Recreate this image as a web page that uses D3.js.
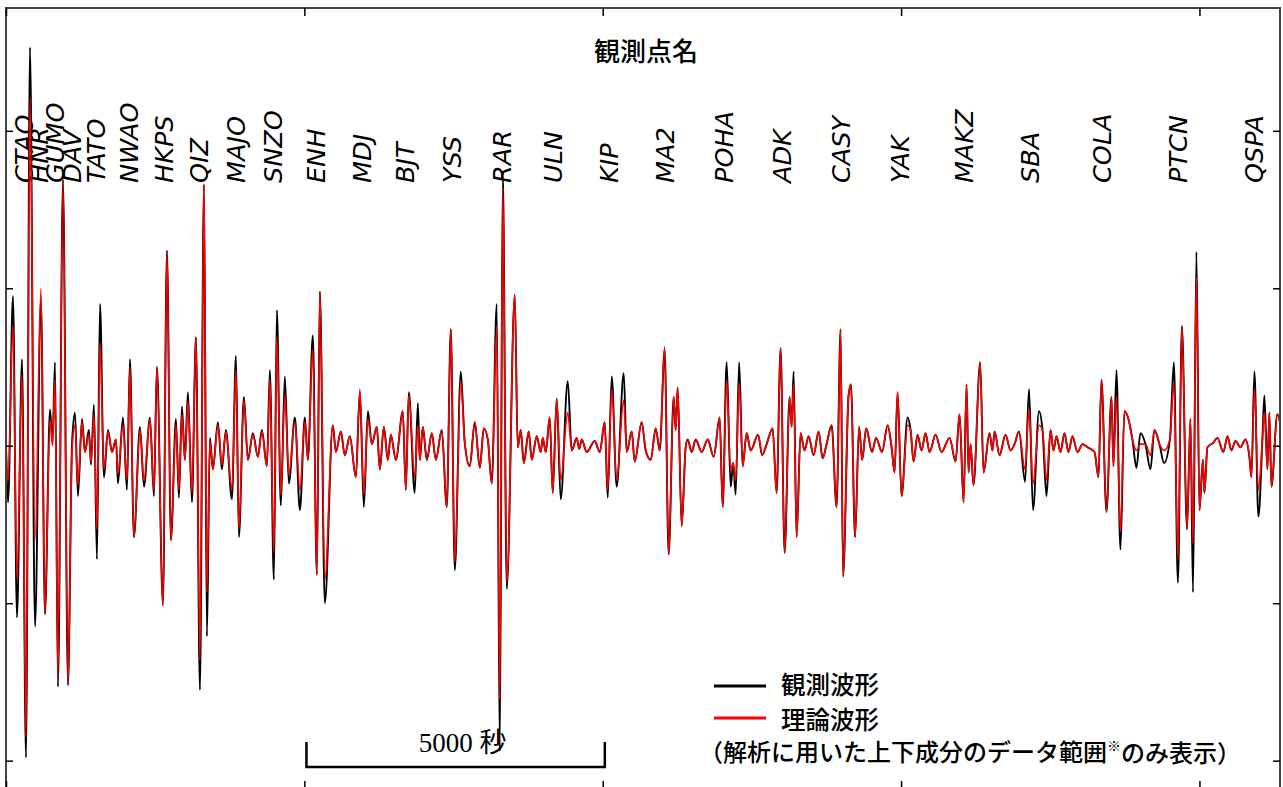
<!DOCTYPE html>
<html><head><meta charset="utf-8">
<script src="https://cdn.jsdelivr.net/npm/d3@7"></script>
<style>html,body{margin:0;padding:0;background:#fff;}</style>
</head><body>
<svg id="chart" width="1283" height="787"></svg>
<script>
// ---- data ----
const stations = ["CTAO","HNR","GUMO","DAV","TATO","NWAO","HKPS","QIZ","MAJO","SNZO","ENH","MDJ","BJT","YSS","RAR","ULN","KIP","MA2","POHA","ADK","CASY","YAK","MAKZ","SBA","COLA","PTCN","QSPA"];
const stationTimes = [285,528,804,1089,1491,2044,2630,3216,3836,4456,5176,5946,6667,7454,8291,9146,10084,11022,12010,12981,13970,14958,16030,17152,18358,19631,20904];

const waveTimes = [
0,34,117,184,268,335,402,486,586,653,
737,779,821,871,955,1039,1106,1156,1206,1273,
1323,1390,1424,1474,1524,1575,1642,1709,1776,1843,
1876,1960,2027,2077,2144,2245,2312,2412,2479,2529,
2630,2697,2764,2848,2898,2948,2998,3049,3116,3183,
3250,3317,3367,3417,3467,3551,3618,3685,3786,3853,
3903,3987,4054,4137,4221,4288,4372,4422,4489,4539,
4606,4673,4740,4841,4925,5008,5059,5142,5209,5260,
5343,5477,5528,5611,5678,5762,5863,5930,5997,6064,
6131,6214,6265,6332,6399,6449,6533,6650,6700,6750,
6850,6901,6935,6985,7052,7136,7203,7303,7387,7454,
7521,7621,7688,7772,7856,7940,8007,8074,8141,8224,
8275,8325,8392,8526,8576,8626,8677,8760,8811,8894,
8961,8995,9045,9112,9162,9229,9296,9414,9481,9564,
9606,9648,9732,9866,9950,10033,10084,10151,10234,10352,
10402,10486,10536,10653,10720,10804,10888,10955,11038,11105,
11189,11223,11256,11323,11390,11424,11491,11558,11658,11759,
11859,11960,12010,12077,12144,12186,12228,12286,12345,12412,
12479,12604,12671,12747,12847,12914,12981,13048,13132,13166,
13199,13249,13316,13383,13450,13534,13618,13685,13752,13836,
13919,13986,14028,14120,14160,14229,14296,14348,14415,14514,
14581,14681,14774,14841,14891,14941,15008,15109,15159,15209,
15276,15343,15410,15477,15578,15678,15812,15913,15980,16047,
16097,16130,16164,16214,16325,16382,16482,16532,16566,16650,
16750,16834,16901,16976,17077,17144,17211,17311,17370,17437,
17504,17554,17604,17671,17738,17805,17872,17956,18040,18124,
18241,18308,18358,18442,18526,18559,18609,18676,18743,18810,
18877,18944,19011,19095,19179,19246,19330,19407,19505,19572,
19639,19706,19792,19849,19892,19949,20000,20058,20083,20134,
20234,20301,20402,20469,20536,20603,20686,20770,20837,20871,
20921,20988,21055,21088,21139,21172,21206,21306,21373];

const observedWave = [
0,-0.36,0.95,-1.09,0.55,-1.98,2.53,-1.15,0.93,-1.07,
0.23,0.02,0.53,-1.53,1.69,-1.52,0.01,0.21,-0.32,0.17,
-0.04,0.10,-0.12,0.26,-0.72,0.90,-0.20,0.10,-0.04,0.04,
-0.24,0.18,-0.28,0.55,-0.58,0.12,-0.26,0.18,-0.32,0.50,
-1.01,1.24,-0.60,0.17,-0.33,0.25,-0.09,0.34,-0.36,0.69,
-1.55,1.66,-1.21,0.05,-0.15,0.15,-0.15,0.10,-0.34,0.57,
-0.58,0.31,-0.09,0.08,-0.07,0.10,-0.13,0.48,-0.85,0.86,
-0.38,0.44,-0.24,0.18,-0.41,0.18,-0.09,0.70,-0.82,0.98,
-1.00,0.13,-0.04,0.09,-0.06,0.06,-0.20,0.34,-0.39,0.22,
0.01,0.12,-0.15,0.12,-0.09,0.07,-0.09,0.22,-0.28,0.34,
-0.30,0.27,-0.09,0.12,-0.09,0.08,-0.09,0.10,-0.39,0.74,
-0.79,0.47,0.02,-0.13,0.15,-0.14,0.11,0.04,-0.24,0.90,
-1.94,1.74,-0.91,0.96,-0.01,0.10,-0.11,0.09,-0.09,0.06,
-0.04,0.05,-0.04,0.18,-0.30,0.30,-0.34,0.41,-0.03,0.05,
-0.02,0.04,-0.04,0.03,-0.04,0.15,-0.33,0.44,-0.26,0.46,
-0.04,0.09,-0.10,0.15,-0.03,-0.09,0.11,-0.03,0.61,-0.69,
0.31,0.10,0.37,-0.51,-0.01,0.04,-0.04,0.04,-0.04,0.04,
-0.07,0.18,-0.39,0.53,-0.26,-0.11,-0.31,0.53,-0.13,0.08,
-0.03,0.07,-0.06,0.01,0.11,-0.30,0.62,-0.68,0.31,0.12,
0.47,-0.58,0.08,-0.03,0.06,-0.06,0.09,-0.08,0.01,0.13,
-0.39,0.74,-0.83,0.32,0.39,-0.58,0.12,-0.09,0.11,-0.04,
0.05,-0.04,0.13,-0.01,-0.17,0.34,-0.32,0.18,0.10,-0.10,
0.07,-0.03,0.08,-0.04,0.07,-0.04,0.05,-0.10,0.20,-0.36,
0.39,-0.17,0.01,-0.25,0.53,-0.17,0.08,-0.03,0.09,-0.06,
0.07,-0.03,0.01,0.09,-0.23,0.36,-0.41,0.22,0.10,-0.32,
0.10,-0.03,0.06,-0.04,0.08,-0.04,0.06,-0.04,0.01,-0.01,
-0.04,-0.20,0.42,-0.42,0.31,-0.13,0.48,-0.66,0.22,0.17,
0.04,-0.14,0.08,0.01,-0.15,0.10,0.01,-0.11,0.04,0.53,
-0.87,0.76,-0.53,0.17,-0.93,1.23,-0.41,-0.09,-0.30,-0.01,
0.02,0.05,-0.04,0.06,-0.03,0.03,-0.01,0.04,-0.07,-0.20,
0.47,-0.45,0.04,0.32,-0.15,0.21,-0.26,0.20,0.10];

const syntheticWave = [
0,-0.22,0.76,-0.85,0.45,-1.85,2.21,-0.60,1.00,-1.07,
0.17,0.00,0.42,-1.47,1.69,-1.52,-0.03,0.13,-0.25,0.15,
-0.04,0.07,-0.10,0.20,-0.53,0.65,-0.15,0.09,-0.04,0.04,
-0.18,0.13,-0.22,0.50,-0.58,0.10,-0.22,0.17,-0.28,0.50,
-1.02,1.24,-0.60,0.13,-0.28,0.20,-0.09,0.28,-0.30,0.69,
-1.36,1.66,-0.93,0.03,-0.15,0.13,-0.12,0.09,-0.28,0.48,
-0.53,0.29,-0.09,0.07,-0.07,0.09,-0.13,0.42,-0.68,0.69,
-0.31,0.32,-0.18,0.15,-0.28,0.15,-0.09,0.61,-0.82,0.98,
-0.85,0.13,-0.04,0.09,-0.06,0.06,-0.20,0.36,-0.31,0.17,
0.01,0.12,-0.15,0.12,-0.09,0.07,-0.09,0.22,-0.28,0.32,
-0.20,0.13,-0.09,0.12,-0.09,0.08,-0.09,0.10,-0.39,0.74,
-0.74,0.41,0.02,-0.13,0.15,-0.14,0.11,0.04,-0.24,0.76,
-1.61,1.64,-0.87,0.96,-0.01,0.10,-0.11,0.09,-0.09,0.06,
-0.04,0.05,-0.04,0.18,-0.30,0.30,-0.22,0.21,-0.03,0.05,
-0.02,0.04,-0.04,0.03,-0.04,0.15,-0.28,0.36,-0.22,0.29,
-0.04,0.09,-0.10,0.15,-0.03,-0.09,0.11,-0.03,0.63,-0.69,
0.31,0.10,0.37,-0.51,-0.01,0.04,-0.04,0.04,-0.04,0.04,
-0.07,0.18,-0.39,0.42,-0.15,-0.11,-0.22,0.40,-0.13,0.08,
-0.03,0.07,-0.06,0.01,0.11,-0.30,0.62,-0.68,0.31,0.12,
0.39,-0.58,0.08,-0.03,0.06,-0.06,0.09,-0.08,0.01,0.13,
-0.39,0.74,-0.83,0.32,0.39,-0.58,0.12,-0.09,0.11,-0.04,
0.05,-0.04,0.13,-0.01,-0.17,0.34,-0.32,0.13,0.10,-0.10,
0.07,-0.03,0.08,-0.04,0.07,-0.04,0.05,-0.10,0.20,-0.36,
0.39,-0.17,0.01,-0.25,0.53,-0.17,0.08,-0.03,0.09,-0.06,
0.07,-0.03,0.01,0.09,-0.15,0.23,-0.24,0.13,0.10,-0.22,
0.10,-0.03,0.06,-0.04,0.08,-0.04,0.06,-0.04,0.01,-0.01,
-0.04,-0.20,0.42,-0.42,0.31,-0.13,0.31,-0.55,0.22,0.17,
0.04,-0.03,0.01,0.01,-0.06,0.10,0.01,-0.03,0.04,0.40,
-0.72,0.76,-0.53,0.17,-0.62,1.07,-0.41,-0.09,-0.30,-0.01,
0.02,0.05,-0.04,0.06,-0.03,0.03,-0.01,0.04,-0.07,-0.20,
0.36,-0.28,0.04,0.21,-0.15,0.21,-0.26,0.20,0.10];

const timeTicks = [0, 5000, 10000, 15000, 20000];
const ampTicks = [-2, -1, 0, 1, 2];
const scaleBarSeconds = 5000;
const scaleBarStart = 5035;
const titleText = "観測点名";
const legendItems = [{label:"観測波形", color:"#000"}, {label:"理論波形", color:"#ff0000"}];

// ---- drawing ----
const svg = d3.select("#chart");
const L = 6, R = 1280, T = 8, B = 789;
const x = d3.scaleLinear().domain([0, 21350]).range([L, R]);
const y = d3.scaleLinear().domain([-2.18, 2.78]).range([B, T]);

svg.append("rect").attr("width",1283).attr("height",787).attr("fill","#fff");

svg.append("defs").append("clipPath").attr("id","plotClip")
  .append("rect").attr("x",L).attr("y",T).attr("width",R-L).attr("height",B-T);

// station labels
const labelG = svg.append("g");
stations.forEach((name,i)=>{
  labelG.append("text")
    .attr("transform",`translate(${x(stationTimes[i])+10},183) rotate(-90)`)
    .attr("font-family","DejaVu Sans")
    .attr("font-style","italic")
    .attr("font-size",25.5)
    .attr("fill","#000")
    .text(name);
});

// title
svg.append("text").attr("x",646).attr("y",61).attr("text-anchor","middle")
  .attr("font-family","Noto Sans CJK JP").attr("font-weight",500).attr("font-size",26).attr("fill","#000").text(titleText);

// traces
const n = Math.min(waveTimes.length, observedWave.length, syntheticWave.length);
const idx = d3.range(n);
const traceG = svg.append("g").attr("clip-path","url(#plotClip)");
const lineObs = d3.line().x(i=>x(waveTimes[i])).y(i=>y(observedWave[i])).curve(d3.curveMonotoneX);
const lineSyn = d3.line().x(i=>x(waveTimes[i])).y(i=>y(syntheticWave[i])).curve(d3.curveMonotoneX);
traceG.append("path").attr("d",lineObs(idx)).attr("fill","none").attr("stroke","#000").attr("stroke-width",1.9).attr("stroke-linejoin","round");
traceG.append("path").attr("d",lineSyn(idx)).attr("fill","none").attr("stroke","#ff0000").attr("stroke-width",1.6).attr("stroke-linejoin","round");

// frame & ticks
svg.append("rect").attr("x",L).attr("y",T).attr("width",R-L).attr("height",B-T)
  .attr("fill","none").attr("stroke","#444").attr("stroke-width",2);
function styleAxis(g){ g.select(".domain").remove(); g.selectAll("text").remove(); g.selectAll("line").attr("stroke","#000").attr("stroke-width",1.5); }
svg.append("g").attr("transform",`translate(0,${T})`).call(d3.axisTop(x).tickValues(timeTicks).tickSize(-8)).call(styleAxis);
svg.append("g").attr("transform",`translate(0,${B})`).call(d3.axisBottom(x).tickValues(timeTicks).tickSize(-8)).call(styleAxis);
svg.append("g").attr("transform",`translate(${L},0)`).call(d3.axisLeft(y).tickValues(ampTicks).tickSize(-7)).call(styleAxis);
svg.append("g").attr("transform",`translate(${R},0)`).call(d3.axisRight(y).tickValues(ampTicks).tickSize(-7)).call(styleAxis);

// legend
const legLineY = [686, 718];
const legTextY = [685, 720];
legendItems.forEach((d,i)=>{
  svg.append("line").attr("x1",714).attr("x2",766).attr("y1",legLineY[i]).attr("y2",legLineY[i])
    .attr("stroke",d.color).attr("stroke-width",3);
  svg.append("text").attr("x",781).attr("y",legTextY[i]).attr("dy","0.35em")
    .attr("font-family","Noto Sans CJK JP").attr("font-weight",500).attr("font-size",24.5).attr("fill","#000").text(d.label);
});
const note = svg.append("text").attr("x",699).attr("y",753).attr("dy","0.35em")
  .attr("font-family","Noto Sans CJK JP").attr("font-weight",500).attr("font-size",24).attr("fill","#000");
note.append("tspan").text("（解析に用いた上下成分のデータ範囲");
note.append("tspan").attr("font-size",14).attr("dy","-0.75em").text("※");
note.append("tspan").attr("dy","0.45em").text("のみ表示）");

// scale bar
const sb0 = x(scaleBarStart), sb1 = x(scaleBarStart + scaleBarSeconds);
svg.append("path").attr("d",`M${sb0},742V767H${sb1}V742`).attr("fill","none")
  .attr("stroke","#000").attr("stroke-width",2.5);
svg.append("text").attr("x",(sb0+sb1)/2+7).attr("y",752).attr("text-anchor","middle")
  .attr("font-family","Liberation Serif, Noto Sans CJK JP").attr("font-size",27).attr("fill","#000")
  .text(scaleBarSeconds + " 秒");
</script>
</body></html>
